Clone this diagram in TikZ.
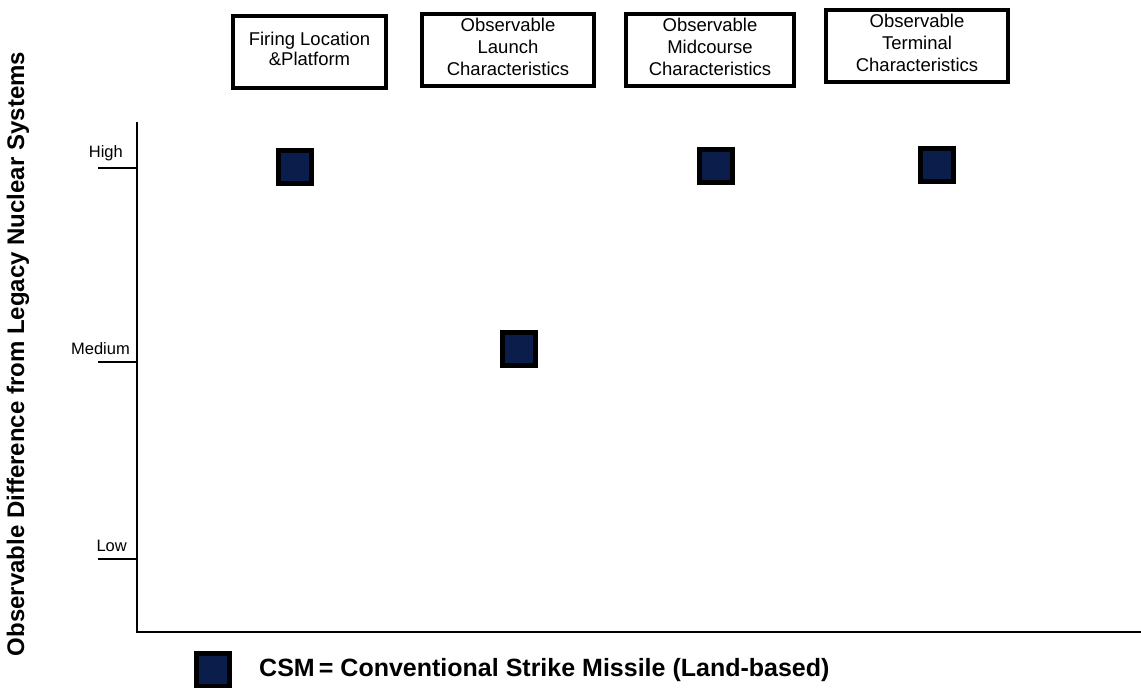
\documentclass[tikz,border=0pt]{standalone}
\usepackage{fontspec}
\setmainfont{Liberation Sans}
\begin{document}
\begin{tikzpicture}[x=1pt,y=-1pt,
  phase/.style={draw=black,line width=4pt,minimum height=72pt,align=center,
    font=\fontsize{18.5}{22}\selectfont,inner sep=2pt},
  csm/.style={draw=black,line width=4.5pt,fill=navy,minimum size=33pt,inner sep=0pt},
  axis/.style={line width=2.5pt},
  tick/.style={line width=2pt},
  lvl/.style={font=\fontsize{16.5}{18}\selectfont,anchor=south east,inner sep=1pt}]
\definecolor{navy}{HTML}{0B1D4B}
\useasboundingbox (0,0) rectangle (1141,688);
% category boxes along the top
\node[phase,minimum width=153pt] (fire) at (309.5,51.5) {Firing Location\\[-2pt]\&Platform\\[-16pt]};
\node[phase,minimum width=172pt] (launch) at (508,50) {Observable\\Launch\\Characteristics\\[-16pt]};
\node[phase,minimum width=168pt] (mid) at (710,50) {Observable\\Midcourse\\Characteristics\\[-16pt]};
\node[phase,minimum width=182pt] (term) at (917,46) {Observable\\Terminal\\Characteristics\\[-16pt]};
% axes
\coordinate (top) at (137,122);
\coordinate (origin) at (137,632);
\coordinate (right) at (1141,632);
\draw[axis] (top) -- (origin) -- (right);
% level ticks
\coordinate (hi) at (98,168);
\coordinate (hiA) at (137,168);
\coordinate (me) at (98,362);
\coordinate (meA) at (137,362);
\coordinate (lo) at (98,559);
\coordinate (loA) at (137,559);
\draw[tick] (hi) -- (hiA);
\draw[tick] (me) -- (meA);
\draw[tick] (lo) -- (loA);
\node[lvl] (hilab) at (124,162) {High};
\node[lvl] (melab) at (131,356) {Medium};
\node[lvl] (lolab) at (128,553) {Low};
% axis title
\node[rotate=90,font=\bfseries\fontsize{24}{26}\selectfont] (ytitle) at (18,354)
  {Observable Difference from Legacy Nuclear Systems};
% data points
\node[csm] (p1) at (295,167) {};
\node[csm] (p2) at (519,349) {};
\node[csm] (p3) at (716,166) {};
\node[csm] (p4) at (937,165) {};
% legend
\node[csm] (key) at (213,670) {};
\node[anchor=west,font=\bfseries\fontsize{25}{26}\selectfont,inner sep=0pt] (keytext) at (259,670)
  {CSM\,= Conventional Strike Missile (Land-based)};
\end{tikzpicture}
\end{document}
